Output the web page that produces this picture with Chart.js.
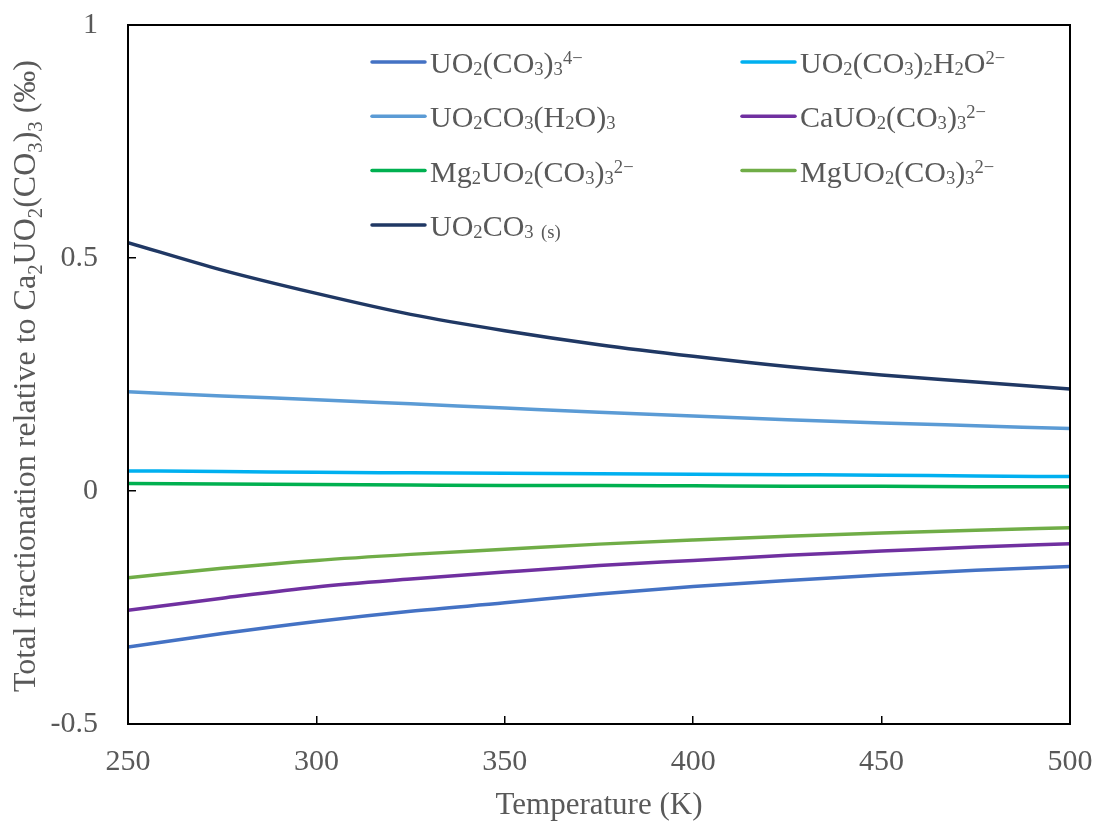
<!DOCTYPE html>
<html>
<head>
<meta charset="utf-8">
<script src="https://cdn.jsdelivr.net/npm/chart.js@4.4.1/dist/chart.umd.min.js"></script>
<style>
  body { margin: 0; background: #fff; }
  canvas { display: block; }
</style>
</head>
<body>
<canvas id="myChart" width="1099" height="824"></canvas>
<script>
// temperaturas (K)
const temperatures = [250, 275, 300, 325, 350, 375, 400, 425, 450, 475, 500];

// fraccionamiento total relativo a Ca2UO2(CO3)3 (‰)
const uo2co33 = [-0.335, -0.306, -0.280, -0.258, -0.240, -0.221, -0.205, -0.192, -0.180, -0.170, -0.162];
const uo2co32h2o = [0.043, 0.042, 0.040, 0.039, 0.038, 0.037, 0.036, 0.035, 0.034, 0.032, 0.031];
const uo2co3h2o3 = [0.213, 0.204, 0.196, 0.187, 0.178, 0.169, 0.161, 0.153, 0.146, 0.140, 0.134];
const cauo2co33 = [-0.256, -0.230, -0.206, -0.189, -0.174, -0.160, -0.149, -0.138, -0.129, -0.120, -0.113];
const mg2uo2co33 = [0.016, 0.015, 0.014, 0.013, 0.012, 0.012, 0.011, 0.010, 0.010, 0.009, 0.009];
const mguo2co33 = [-0.186, -0.166, -0.149, -0.136, -0.125, -0.114, -0.105, -0.097, -0.090, -0.084, -0.079];
const uo2co3s = [0.533, 0.474, 0.424, 0.379, 0.344, 0.314, 0.289, 0.267, 0.249, 0.234, 0.219];

// etiquetas: _ = subindice, ^ = superindice
const labels = [
  "UO_2(CO_3)_3^{4−}",
  "UO_2(CO_3)_2H_2O^{2−}",
  "UO_2CO_3(H_2O)_3",
  "CaUO_2(CO_3)_3^{2−}",
  "Mg_2UO_2(CO_3)_3^{2−}",
  "MgUO_2(CO_3)_3^{2−}",
  "UO_2CO_3 _{(s)}"
];
const series = [uo2co33, uo2co32h2o, uo2co3h2o3, cauo2co33, mg2uo2co33, mguo2co33, uo2co3s];
const colors = ["#4472C4", "#00B0F0", "#5B9BD5", "#7030A0", "#00B050", "#70AD47", "#203864"];

const xTicks = [250, 300, 350, 400, 450, 500];
const yTicks = [-0.5, 0, 0.5, 1];

const xTitle = "Temperature (K)";
const yTitle = "Total fractionation relative to Ca_2UO_2(CO_3)_3 (‰)";

const FONT = "'Liberation Serif', 'Times New Roman', serif";
const GRAY = "#595959";

function parseRich(str) {
  const parts = [];
  let buf = "";
  let i = 0;
  while (i < str.length) {
    const c = str[i];
    if (c === "_" || c === "^") {
      if (buf) { parts.push({ text: buf, mode: "" }); buf = ""; }
      let txt;
      if (str[i + 1] === "{") {
        const end = str.indexOf("}", i);
        txt = str.slice(i + 2, end);
        i = end + 1;
      } else {
        txt = str[i + 1];
        i += 2;
      }
      parts.push({ text: txt, mode: c === "_" ? "sub" : "sup" });
    } else {
      buf += c;
      i++;
    }
  }
  if (buf) parts.push({ text: buf, mode: "" });
  return parts;
}

function drawRich(ctx, str, x, y, size, opts) {
  const parts = parseRich(str);
  const small = size * opts.small;
  const fontOf = (p) => (p.mode ? small : size) + "px " + FONT;
  let total = 0;
  parts.forEach((p) => {
    ctx.font = fontOf(p);
    total += ctx.measureText(p.text).width;
  });
  let cx = opts.center ? x - total / 2 : x;
  ctx.textAlign = "left";
  ctx.textBaseline = "alphabetic";
  parts.forEach((p) => {
    ctx.font = fontOf(p);
    let dy = 0;
    if (p.mode === "sub") dy = opts.subShift;
    if (p.mode === "sup") dy = opts.supShift;
    ctx.fillText(p.text, cx, y + dy);
    cx += ctx.measureText(p.text).width;
  });
}

// leyenda con subindices, dentro del area del grafico
const legendPlugin = {
  id: "richLegend",
  afterDraw(chart) {
    const ctx = chart.ctx;
    ctx.save();
    chart.data.datasets.forEach((ds, i) => {
      const col = i % 2;
      const row = Math.floor(i / 2);
      const lx = col === 0 ? 372 : 742;
      const ly = 62 + row * 54.3;
      ctx.strokeStyle = ds.borderColor;
      ctx.lineWidth = 3.5;
      ctx.lineCap = "round";
      ctx.beginPath();
      ctx.moveTo(lx, ly);
      ctx.lineTo(lx + 53, ly);
      ctx.stroke();
      ctx.fillStyle = GRAY;
      drawRich(ctx, labels[i], lx + 58, ly + 11, 30, { small: 0.62, subShift: 2, supShift: -9 });
    });
    ctx.restore();
  }
};

// marco y titulo del eje y
const framePlugin = {
  id: "frame",
  afterDraw(chart) {
    const { ctx, chartArea } = chart;
    ctx.save();
    ctx.strokeStyle = "#000";
    ctx.lineWidth = 2;
    ctx.strokeRect(chartArea.left, chartArea.top, chartArea.right - chartArea.left, chartArea.bottom - chartArea.top);
    ctx.translate(35, 376);
    ctx.rotate(-Math.PI / 2);
    ctx.fillStyle = GRAY;
    drawRich(ctx, yTitle, 0, 0, 32, { small: 0.65, subShift: 7, supShift: -10, center: true });
    ctx.restore();
  }
};

const datasets = series.map((values, i) => ({
  label: labels[i],
  data: temperatures.map((t, k) => ({ x: t, y: values[k] })),
  borderColor: colors[i],
  backgroundColor: colors[i],
  borderWidth: 3.5,
  pointRadius: 0,
  fill: false,
  cubicInterpolationMode: "monotone"
}));

const config = {
  type: "line",
  data: { datasets },
  options: {
    responsive: false,
    animation: false,
    layout: { padding: { top: 25, right: 29, left: 0, bottom: 0 } },
    plugins: {
      legend: { display: false },
      tooltip: { enabled: false }
    },
    scales: {
      x: {
        type: "linear",
        min: 250,
        max: 500,
        afterBuildTicks: (s) => { s.ticks = xTicks.map((v) => ({ value: v })); },
        ticks: {
          color: GRAY,
          font: { family: FONT, size: 30 },
          padding: 28,
          maxRotation: 0
        },
        grid: { drawOnChartArea: false, tickLength: -8, color: "#000", lineWidth: 1.5 },
        border: { color: "#000", width: 2 },
        title: {
          display: true,
          text: xTitle,
          color: GRAY,
          font: { family: FONT, size: 31 },
          padding: 0
        },
        afterFit: (s) => { s.height = 100; s.paddingLeft = 0; s.paddingRight = 0; }
      },
      y: {
        min: -0.5,
        max: 1,
        afterBuildTicks: (s) => { s.ticks = yTicks.map((v) => ({ value: v })); },
        ticks: {
          color: GRAY,
          font: { family: FONT, size: 30 },
          padding: 38,
          callback: (v) => String(v)
        },
        grid: { drawOnChartArea: false, tickLength: -8, color: "#000", lineWidth: 1.5 },
        border: { color: "#000", width: 2 },
        afterFit: (s) => { s.width = 128; s.paddingTop = 0; s.paddingBottom = 0; }
      }
    }
  },
  plugins: [legendPlugin, framePlugin]
};

const myChart = new Chart(document.getElementById("myChart"), config);
</script>
</body>
</html>
